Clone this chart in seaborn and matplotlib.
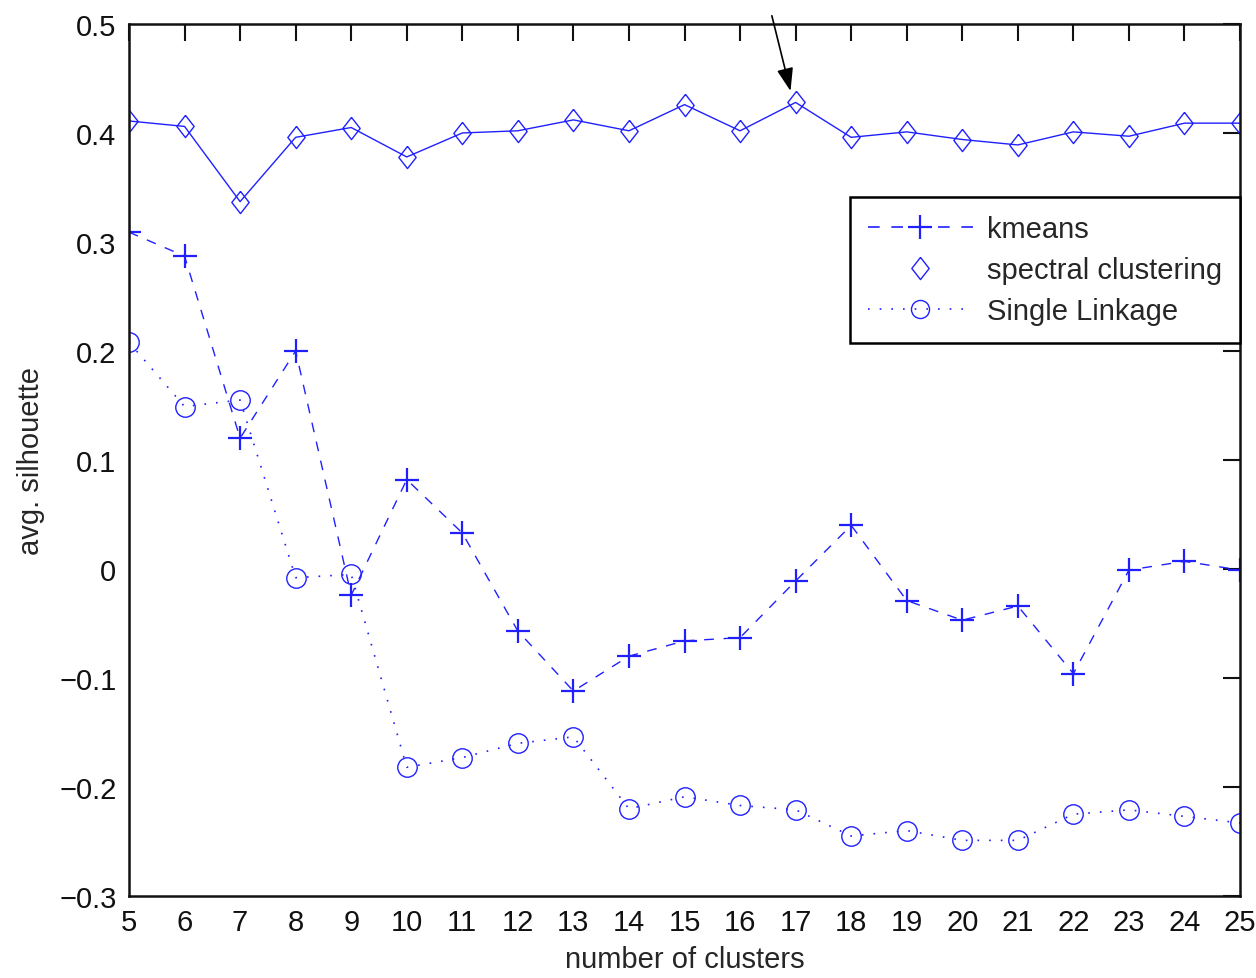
import matplotlib
matplotlib.use('Agg')
import matplotlib.pyplot as plt
from matplotlib.lines import Line2D
import numpy as np
import pandas as pd
import seaborn as sns

# dati
n_clusters = list(range(5, 26))
kmeans = [0.309, 0.287, 0.120, 0.200, -0.024, 0.082, 0.033, -0.057, -0.112, -0.080,
          -0.066, -0.063, -0.011, 0.040, -0.029, -0.047, -0.034, -0.096, -0.001, 0.007, -0.001]
spectral = [0.411, 0.406, 0.337, 0.396, 0.405, 0.378, 0.400, 0.402, 0.412, 0.402,
            0.426, 0.402, 0.428, 0.396, 0.401, 0.394, 0.389, 0.401, 0.397, 0.409, 0.409]
single_linkage = [0.208, 0.149, 0.155, -0.008, -0.005, -0.182, -0.173, -0.160, -0.154, -0.220,
                  -0.209, -0.217, -0.221, -0.245, -0.240, -0.249, -0.249, -0.225, -0.221, -0.227, -0.233]
y_ticks = [-0.3, -0.2, -0.1, 0, 0.1, 0.2, 0.3, 0.4, 0.5]
series_names = ['kmeans', 'spectral clustering', 'Single Linkage']

sns.set_style('white')
plt.rcParams['font.family'] = ['Liberation Sans', 'DejaVu Sans']

df = pd.DataFrame({'k': n_clusters, 'kmeans': kmeans, 'spectral': spectral, 'single': single_linkage})

fig = plt.figure(figsize=(12.56, 9.79), dpi=100)
ax = fig.add_axes([0.1027, 0.0838, 0.8846, 0.8907])

blue = '#2020ff'
diamond = [(0, 1), (0.78, 0), (0, -1), (-0.78, 0), (0, 1)]
dash = (0, (7, 7))
dot = (0, (1, 6))

sns.lineplot(data=df, x='k', y='kmeans', ax=ax, color=blue, linestyle=dash, linewidth=1.0,
             marker='+', markersize=17, markeredgecolor=blue, markeredgewidth=1.6)
sns.lineplot(data=df, x='k', y='spectral', ax=ax, color=blue, linestyle='-', linewidth=1.0,
             marker=diamond, markersize=16, markerfacecolor='none', markeredgecolor=blue, markeredgewidth=1.0)
sns.lineplot(data=df, x='k', y='single', ax=ax, color=blue, linestyle=dot, linewidth=1.2,
             marker='o', markersize=14, markerfacecolor='none', markeredgecolor=blue, markeredgewidth=1.0)

# freccia sul massimo di spectral clustering
ax.annotate('', xy=(16.92, 0.436), xytext=(16.56, 0.510), annotation_clip=False,
            arrowprops=dict(arrowstyle='-|>,head_length=1.4,head_width=0.5', color='black', lw=1.2))

ax.set_xlim(5, 25)
ax.set_ylim(-0.3, 0.5)
ax.set_xticks(n_clusters)
ax.set_yticks(y_ticks)
ax.set_yticklabels([f'{t:g}'.replace('-', '\u2212') for t in y_ticks])
ax.tick_params(direction='in', length=12, width=1.5, top=True, right=True,
               labelsize=21, pad=9, colors='#111111')
for s in ax.spines.values():
    s.set_linewidth(1.8)
    s.set_color('#111111')

ax.set_xlabel('number of clusters', fontsize=21, labelpad=6)
ax.set_ylabel('avg. silhouette', fontsize=21, labelpad=10)

handles = [
    Line2D([], [], color=blue, linestyle=dash, linewidth=1.2, marker='+', markersize=17,
           markeredgecolor=blue, markeredgewidth=1.6),
    Line2D([], [], color=blue, linestyle='none', marker=diamond, markersize=16, markerfacecolor='none',
           markeredgecolor=blue, markeredgewidth=1.0),
    Line2D([], [], color=blue, linestyle=dot, linewidth=1.2, marker='o', markersize=13,
           markerfacecolor='none', markeredgecolor=blue, markeredgewidth=1.0),
]
leg = ax.legend(handles, series_names, loc='upper right', bbox_to_anchor=(1.0, 0.801), fontsize=21,
                handlelength=3.6, labelspacing=0.45, borderpad=0.6, handletextpad=0.5,
                borderaxespad=0, fancybox=False, framealpha=1, edgecolor='black')
leg.get_frame().set_linewidth(1.8)

plt.savefig('out.png', dpi=100)
